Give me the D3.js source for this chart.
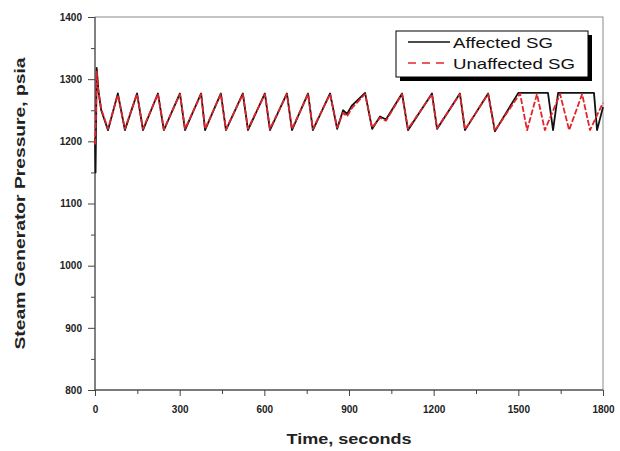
<!DOCTYPE html>
<html>
<head>
<meta charset="utf-8">
<script src="https://cdn.jsdelivr.net/npm/d3@7/dist/d3.min.js"></script>
<style>
  body { margin: 0; background: #fff; }
  svg { display: block; font-family: "Liberation Sans", Arial, sans-serif; }
</style>
</head>
<body>
<div id="chart"></div>
<script>
// series: time in seconds, pressure in psia
const affectedTime = [0, 2, 6, 12, 22, 46, 81, 106, 149, 170, 223, 244, 301, 319, 376, 390, 446, 464, 524, 542, 602, 620, 680, 698, 755, 772, 833, 858, 879, 893, 911, 957, 982, 1010, 1031, 1088, 1109, 1194, 1212, 1293, 1311, 1393, 1417, 1500, 1605, 1623, 1641, 1768, 1779, 1800];
const affectedPsia = [1205, 1150, 1318, 1282, 1250, 1218, 1277, 1218, 1277, 1218, 1277, 1218, 1277, 1218, 1277, 1218, 1277, 1218, 1277, 1218, 1277, 1218, 1277, 1218, 1277, 1218, 1277, 1220, 1250, 1244, 1258, 1278, 1220, 1240, 1235, 1277, 1218, 1277, 1220, 1277, 1218, 1277, 1216, 1278, 1278, 1218, 1278, 1278, 1218, 1255];

const unaffectedTime = [0, 3, 6, 12, 22, 46, 81, 106, 149, 170, 223, 244, 301, 319, 376, 390, 446, 464, 524, 542, 602, 620, 680, 698, 755, 772, 833, 858, 879, 893, 911, 957, 982, 1010, 1031, 1088, 1109, 1194, 1212, 1293, 1311, 1393, 1417, 1506, 1531, 1566, 1594, 1648, 1680, 1726, 1754, 1800];
const unaffectedPsia = [1195, 1230, 1312, 1280, 1252, 1220, 1275, 1220, 1276, 1220, 1276, 1219, 1276, 1220, 1276, 1220, 1276, 1219, 1276, 1220, 1276, 1220, 1276, 1220, 1276, 1220, 1276, 1222, 1246, 1240, 1254, 1276, 1222, 1238, 1233, 1276, 1220, 1276, 1221, 1276, 1219, 1276, 1217, 1277, 1218, 1276, 1218, 1276, 1218, 1276, 1218, 1262];

const xTicks = [0, 300, 600, 900, 1200, 1500, 1800];
const yTicks = [800, 900, 1000, 1100, 1200, 1300, 1400];
const seriesNames = ["Affected SG", "Unaffected SG"];

window.onload = function() {

  const margin = {top: 17, right: 17, bottom: 61, left: 95};
  const width = 620 - margin.left - margin.right;
  const height = 451 - margin.top - margin.bottom;

  const root = d3.select("#chart")
    .append("svg")
      .attr("width", width + margin.left + margin.right)
      .attr("height", height + margin.top + margin.bottom);

  const svg = root.append("g")
      .attr("transform", `translate(${margin.left}, ${margin.top})`);

  const x = d3.scaleLinear().domain([0, 1800]).range([0, width]);
  const y = d3.scaleLinear().domain([800, 1400]).range([height, 0]);

  //frame (top and right edges are lighter)
  svg.append("rect")
    .attr("width", width)
    .attr("height", height)
    .attr("fill", "none")
    .attr("stroke", "#8a8a8a");

  //minor ticks
  const xMinor = d3.range(150, 1800, 300);
  const yMinor = d3.range(850, 1400, 100);
  svg.append("g")
    .attr("transform", `translate(0, ${height})`)
    .call(d3.axisBottom(x).tickValues(xMinor).tickSize(4).tickFormat(""));
  svg.append("g")
    .call(d3.axisLeft(y).tickValues(yMinor).tickSize(4).tickFormat(""));

  //major ticks + labels
  const xAxis = svg.append("g")
    .attr("transform", `translate(0, ${height})`)
    .call(d3.axisBottom(x).tickValues(xTicks).tickFormat(d3.format("d"))
      .tickSize(6).tickSizeOuter(0).tickPadding(10));
  const yAxis = svg.append("g")
    .call(d3.axisLeft(y).tickValues(yTicks).tickFormat(d3.format("d"))
      .tickSize(7).tickSizeOuter(0).tickPadding(6));

  svg.selectAll(".tick line").attr("stroke", "#444");
  svg.selectAll(".domain").remove();

  svg.append("line")
    .attr("x1", 0).attr("x2", 0).attr("y1", 0).attr("y2", height)
    .attr("stroke", "#555").attr("stroke-width", 1.2);
  svg.append("line")
    .attr("x1", 0).attr("x2", width).attr("y1", height).attr("y2", height)
    .attr("stroke", "#333").attr("stroke-width", 1.2);

  [xAxis, yAxis].forEach(a => a.selectAll("text")
    .style("font-size", "10px")
    .style("font-weight", "bold")
    .attr("fill", "#222"));

  //series
  const line = d3.line()
    .x(d => x(d[0]))
    .y(d => y(d[1]));

  svg.append("path")
    .datum(d3.zip(affectedTime, affectedPsia))
    .attr("d", line)
    .attr("fill", "none")
    .attr("stroke", "#111")
    .attr("stroke-width", 1.8)
    .attr("stroke-linejoin", "round");

  svg.append("path")
    .datum(d3.zip(unaffectedTime, unaffectedPsia))
    .attr("d", line)
    .attr("fill", "none")
    .attr("stroke", "#e3242b")
    .attr("stroke-width", 1.8)
    .attr("stroke-dasharray", "6,2")
    .attr("stroke-linejoin", "round");

  //axis titles
  root.append("text")
    .attr("x", margin.left + width / 2)
    .attr("y", 444)
    .attr("text-anchor", "middle")
    .attr("textLength", 125)
    .attr("lengthAdjust", "spacingAndGlyphs")
    .style("font-size", "15px")
    .style("font-weight", "bold")
    .attr("fill", "#222")
    .text("Time, seconds");

  root.append("text")
    .attr("transform", `translate(25, ${margin.top + height / 2}) rotate(-90)`)
    .attr("text-anchor", "middle")
    .attr("textLength", 292)
    .attr("lengthAdjust", "spacingAndGlyphs")
    .style("font-size", "15px")
    .style("font-weight", "bold")
    .attr("fill", "#222")
    .text("Steam Generator Pressure, psia");

  //legend with drop shadow
  const legend = svg.append("g")
    .attr("transform", `translate(${width - 207}, 14)`);
  legend.append("rect")
    .attr("x", 4).attr("y", 4).attr("width", 192).attr("height", 46)
    .attr("fill", "#000");
  legend.append("rect")
    .attr("width", 192).attr("height", 46)
    .attr("fill", "#fff")
    .attr("stroke", "#000");

  const styles = [
    {stroke: "#111", dash: null},
    {stroke: "#e3242b", dash: "8,6"}
  ];
  seriesNames.forEach((name, i) => {
    const ly = 11 + i * 21;
    legend.append("line")
      .attr("x1", 12).attr("x2", 54)
      .attr("y1", ly).attr("y2", ly)
      .attr("stroke", styles[i].stroke)
      .attr("stroke-width", 1.6)
      .attr("stroke-dasharray", styles[i].dash);
    legend.append("text")
      .attr("x", 57)
      .attr("y", ly + 6)
      .attr("textLength", i == 0 ? 100 : 122)
      .attr("lengthAdjust", "spacingAndGlyphs")
      .style("font-size", "15px")
      .attr("fill", "#111")
      .text(name);
  });
};
</script>
</body>
</html>
